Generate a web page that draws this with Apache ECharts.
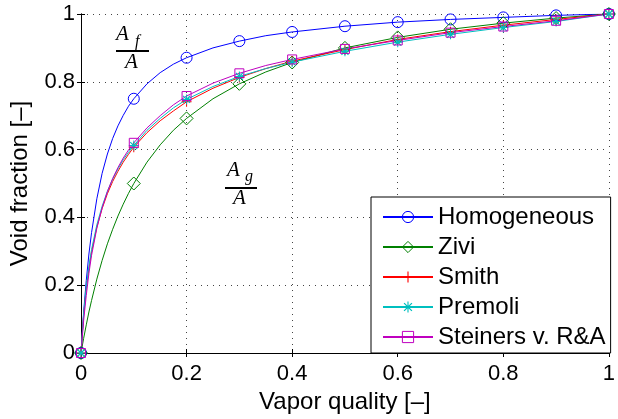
<!DOCTYPE html>
<html>
<head>
<meta charset="utf-8">
<script src="https://cdn.jsdelivr.net/npm/echarts@6/dist/echarts.min.js"></script>
<style>
    html, body { margin: 0; padding: 0; background: #fff; }
    #chart_void { width: 618px; height: 419px; }
</style>
</head>
<body>
<div id="chart_void"></div>
<script>
// vapor quality where the curves were read, markers sit on the 0.1 steps
let qualityX = [0, 0.005, 0.01, 0.015, 0.02, 0.03, 0.04, 0.05, 0.06, 0.07, 0.08, 0.09, 0.1,
    0.125, 0.15, 0.175, 0.2, 0.25, 0.3, 0.35, 0.4, 0.5, 0.6, 0.7, 0.8, 0.9, 1];
let markerX = [0, 0.1, 0.2, 0.3, 0.4, 0.5, 0.6, 0.7, 0.8, 0.9, 1];

let homogeneous = [0, 0.12, 0.214, 0.292, 0.355, 0.455, 0.53, 0.587, 0.633, 0.67, 0.701, 0.728, 0.75,
    0.794, 0.827, 0.852, 0.871, 0.9, 0.92, 0.936, 0.947, 0.964, 0.976, 0.984, 0.99, 0.996, 1];
let zivi = [0, 0.043, 0.083, 0.121, 0.155, 0.218, 0.273, 0.322, 0.365, 0.404, 0.439, 0.471, 0.5,
    0.563, 0.614, 0.657, 0.692, 0.75, 0.794, 0.829, 0.857, 0.9, 0.931, 0.955, 0.973, 0.988, 1];
let smith = [0, 0.111, 0.189, 0.249, 0.298, 0.371, 0.426, 0.47, 0.506, 0.536, 0.563, 0.586, 0.607,
    0.65, 0.685, 0.714, 0.741, 0.781, 0.813, 0.839, 0.861, 0.895, 0.925, 0.948, 0.967, 0.984, 1];
let premoli = [0, 0.115, 0.195, 0.256, 0.305, 0.378, 0.433, 0.477, 0.513, 0.543, 0.57, 0.592, 0.612,
    0.657, 0.692, 0.723, 0.748, 0.786, 0.816, 0.839, 0.858, 0.89, 0.917, 0.94, 0.96, 0.978, 1];
let steiners = [0, 0.095, 0.17, 0.235, 0.288, 0.368, 0.428, 0.476, 0.515, 0.547, 0.575, 0.599, 0.62,
    0.664, 0.7, 0.732, 0.758, 0.796, 0.825, 0.848, 0.866, 0.897, 0.922, 0.945, 0.963, 0.98, 1];

let seriesNames = ['Homogeneous', 'Zivi', 'Smith', 'Premoli', 'Steiners v. R&A'];

let plusPath = 'path://M4.5,0H5.5V10H4.5ZM0,4.5H10V5.5H0Z';
let starPath = 'path://M4.5,0H5.5V10H4.5ZM0,4.5H10V5.5H0ZM1.1,1.9L1.9,1.1L8.9,8.1L8.1,8.9ZM8.1,1.1L8.9,1.9L1.9,8.9L1.1,8.1Z';

let font = 'Liberation Sans';
let texFont = 'italic 21px "Liberation Serif"';
let subFont = 'italic 16px "Liberation Serif"';

let chart_void = document.getElementById("chart_void");
let myChart = echarts.init(chart_void);

function makeData(values) {
    return qualityX.map(function (x, i) {
        let onMarker = markerX.some(function (m) { return Math.abs(m - x) < 1e-9; });
        let item = { value: [x, values[i]] };
        if (!onMarker) item.symbol = 'none';
        return item;
    });
}

// hollow == marker drawn as outline only, like matlab's default markers
function makeSeries(name, values, color, symbol, size, hollow) {
    return {
        name: name,
        type: 'line',
        data: makeData(values),
        symbol: symbol,
        symbolSize: size,
        showAllSymbol: true,
        lineStyle: { color: color, width: 1 },
        itemStyle: hollow
            ? { color: 'rgba(255,255,255,0)', borderColor: color, borderWidth: 1 }
            : { color: color, borderWidth: 0 },
        emphasis: { disabled: true }
    };
}

let axisText = { color: '#000', fontFamily: font, fontSize: 22 };

let option = {
    animation: false,
    backgroundColor: '#fff',
    grid: { left: 78, right: 1, top: 14, bottom: 63 },
    legend: {
        data: seriesNames,
        orient: 'vertical',
        left: 371,
        top: 197,
        padding: [8, 5, 4, 11],
        itemWidth: 50,
        itemHeight: 14,
        itemGap: 6,
        borderColor: '#000',
        borderWidth: 1,
        backgroundColor: '#fff',
        itemStyle: { borderWidth: 1 },
        textStyle: { color: '#000', fontFamily: font, fontSize: 24, lineHeight: 23 }
    },
    xAxis: [{
        type: 'value',
        min: 0,
        max: 1,
        interval: 0.2,
        name: 'Vapor quality [\u2013]',
        nameLocation: 'middle',
        nameGap: 37,
        nameTextStyle: { color: '#000', fontFamily: font, fontSize: 24 },
        axisLine: { lineStyle: { color: '#000', width: 1 } },
        axisTick: { inside: true, length: 4, lineStyle: { color: '#000' } },
        axisLabel: Object.assign({ margin: 10 }, axisText),
        splitLine: { show: true, lineStyle: { color: '#444', type: [1, 5] } }
    }, {
        type: 'value',
        position: 'top',
        min: 0,
        max: 1,
        interval: 0.2,
        axisLine: { show: true, lineStyle: { color: '#000', width: 1 } },
        axisTick: { show: true, inside: true, length: 4, lineStyle: { color: '#000' } },
        axisLabel: { show: false },
        splitLine: { show: false }
    }],
    yAxis: [{
        type: 'value',
        min: 0,
        max: 1,
        interval: 0.2,
        name: 'Void fraction [\u2013]',
        nameLocation: 'middle',
        nameGap: 49,
        nameTextStyle: { color: '#000', fontFamily: font, fontSize: 24 },
        axisLine: { show: true, lineStyle: { color: '#000', width: 1 } },
        axisTick: { show: true, inside: true, length: 4, lineStyle: { color: '#000' } },
        axisLabel: Object.assign({ margin: 6 }, axisText),
        splitLine: { show: true, lineStyle: { color: '#444', type: [1, 5] } }
    }, {
        type: 'value',
        position: 'right',
        min: 0,
        max: 1,
        interval: 0.2,
        axisLine: { show: true, lineStyle: { color: '#000', width: 1 } },
        axisTick: { show: true, inside: true, length: 4, lineStyle: { color: '#000' } },
        axisLabel: { show: false },
        splitLine: { show: false }
    }],
    series: [
        makeSeries(seriesNames[0], homogeneous, '#0000ff', 'circle', 11, true),
        makeSeries(seriesNames[1], zivi, '#008000', 'diamond', 13, true),
        makeSeries(seriesNames[2], smith, '#ff0000', plusPath, 10, false),
        makeSeries(seriesNames[3], premoli, '#00bfbf', starPath, 10, false),
        makeSeries(seriesNames[4], steiners, '#bf00bf', 'rect', 9, true)
    ],
    graphic: [
        { type: 'text', left: 116, top: 24, style: { text: 'A', font: texFont, fill: '#000' } },
        { type: 'text', left: 135, top: 34, style: { text: 'f', font: subFont, fill: '#000' } },
        { type: 'rect', shape: { x: 116, y: 50, width: 33, height: 2 }, style: { fill: '#000' } },
        { type: 'text', left: 125, top: 52, style: { text: 'A', font: texFont, fill: '#000' } },
        { type: 'text', left: 227, top: 160, style: { text: 'A', font: texFont, fill: '#000' } },
        { type: 'text', left: 245, top: 169, style: { text: 'g', font: subFont, fill: '#000' } },
        { type: 'rect', shape: { x: 225, y: 187, width: 32, height: 2 }, style: { fill: '#000' } },
        { type: 'text', left: 233, top: 188, style: { text: 'A', font: texFont, fill: '#000' } }
    ]
};

myChart.setOption(option);
</script>
</body>
</html>
